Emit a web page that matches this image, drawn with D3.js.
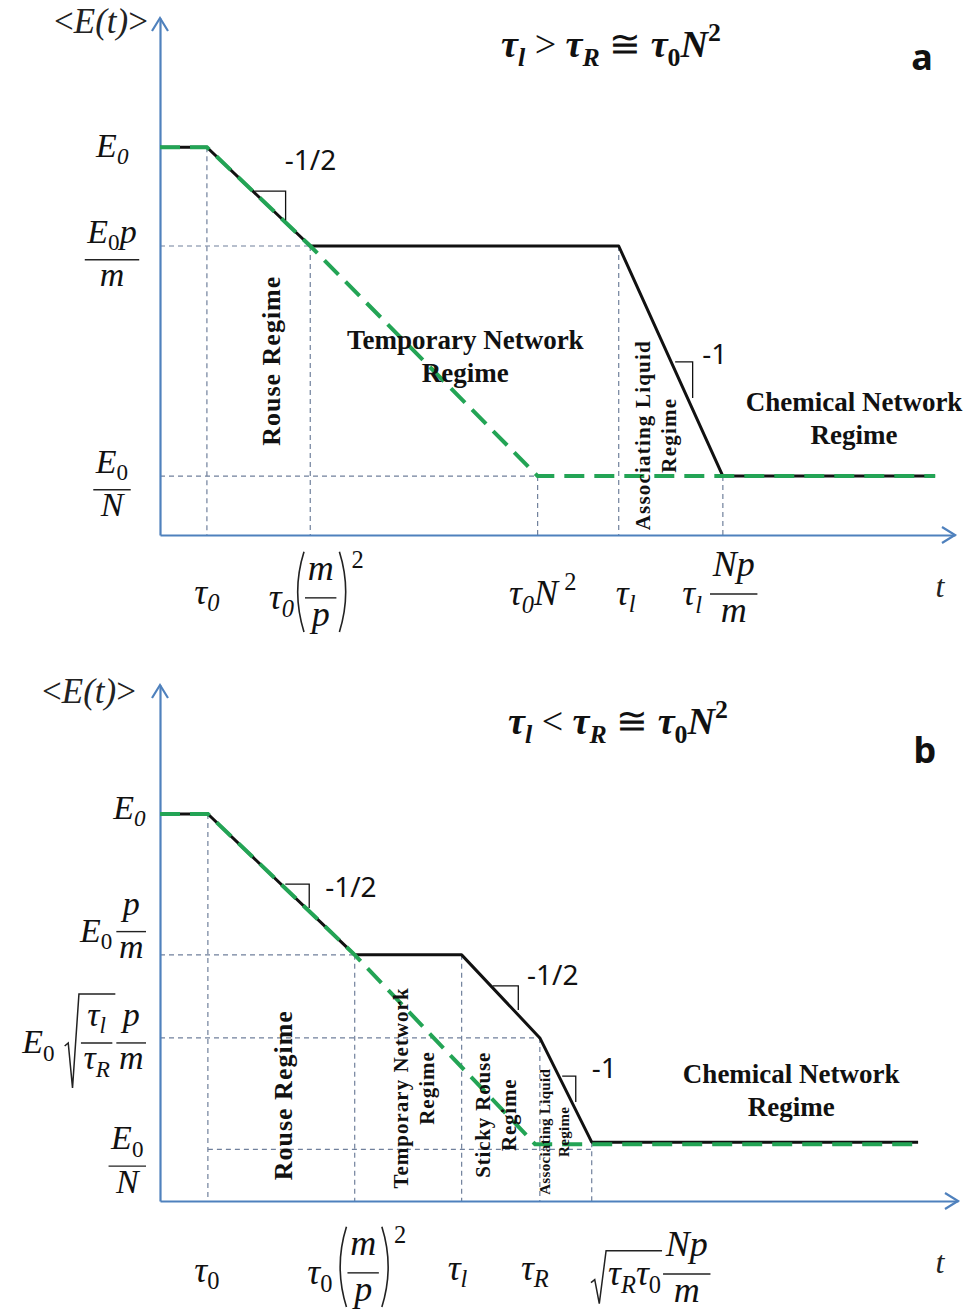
<!DOCTYPE html>
<html>
<head>
<meta charset="utf-8">
<script src="https://cdn.jsdelivr.net/npm/d3@7"></script>
<style>
  body { margin: 0; background: #fff; }
</style>
</head>
<body>
<div id="chart"></div>
<script>
// schematic units on both panels: x = log t, y = log <E(t)>, each 0..10

// panel a
const aBlack = [[0, 7.5], [0.59, 7.5], [1.89, 5.59], [5.77, 5.59], [7.08, 1.14], [9.75, 1.14]]
const aGreen = [[0, 7.5], [0.59, 7.5], [1.89, 5.59], [4.75, 1.14], [9.75, 1.14]]
const aXTicks = [0.59, 1.89, 4.75, 5.77, 7.08]
const aYTicks = [7.5, 5.59, 1.14]
const aVGuides = [[0.59, 7.5], [1.89, 5.59], [4.75, 1.14], [5.77, 5.59], [7.08, 1.14]]
const aHGuides = [[0, 1.89, 5.59], [0, 4.75, 1.14]]
const aSlopes = [
  { x1: 1.19, x2: 1.58, y1: 6.65, y2: 6.09, text: '-1/2', tx: 1.57, ty: 7.06 },
  { x1: 6.48, x2: 6.70, y1: 3.35, y2: 2.65, text: '-1', tx: 6.82, ty: 3.31 }
]
const aRegimes = [
  { lines: ['Rouse Regime'], x: 1.40, y: 3.37, rot: -90, size: 26, ls: 1 },
  { lines: ['Temporary Network', 'Regime'], x: 3.84, y: 3.46, rot: 0, size: 27, ls: 0 },
  { lines: ['Associating Liquid', 'Regime'], x: 6.23, y: 1.93, rot: -90, size: 21, ls: 1.2 },
  { lines: ['Chemical Network', 'Regime'], x: 8.73, y: 2.26, rot: 0, size: 27, ls: 0 }
]

// panel b
const bBlack = [[0, 7.5], [0.60, 7.5], [2.44, 4.77], [3.78, 4.77], [4.76, 3.16], [5.41, 1.14], [9.50, 1.14]]
const bGreen = [[0, 7.5], [0.60, 7.5], [2.44, 4.77], [4.70, 1.10], [9.50, 1.10]]
const bXTicks = [0.60, 2.44, 3.78, 4.76, 5.41]
const bYTicks = [7.5, 4.77, 3.16, 1.0]
const bVGuides = [[0.60, 7.5], [2.44, 4.77], [3.78, 4.77], [4.76, 3.16], [5.41, 1.14]]
const bHGuides = [[0, 2.44, 4.77], [0, 4.76, 3.16], [0.60, 5.41, 1.0]]
const bSlopes = [
  { x1: 1.57, x2: 1.87, y1: 6.14, y2: 5.68, text: '-1/2', tx: 2.07, ty: 5.89 },
  { x1: 4.17, x2: 4.49, y1: 4.17, y2: 3.70, text: '-1/2', tx: 4.60, ty: 4.19 },
  { x1: 5.04, x2: 5.21, y1: 2.42, y2: 1.92, text: '-1', tx: 5.41, ty: 2.38 }
]
const bRegimes = [
  { lines: ['Rouse Regime'], x: 1.54, y: 2.05, rot: -90, size: 26, ls: 1 },
  { lines: ['Temporary  Network', 'Regime'], x: 3.18, y: 2.19, rot: -90, size: 21, ls: 1 },
  { lines: ['Sticky Rouse', 'Regime'], x: 4.21, y: 1.67, rot: -90, size: 21, ls: 0.8 },
  { lines: ['Associating Liquid', 'Regime'], x: 4.94, y: 1.34, rot: -90, size: 15, ls: 0.3 },
  { lines: ['Chemical Network', 'Regime'], x: 7.91, y: 2.15, rot: 0, size: 27, ls: 0 }
]

// math labels: r = text run, f = fraction, p = parentheses, q = square root
const E0 = { r: [['E', 'i'], ['0', 'is']] }
const E0u = { r: [['E', 'i'], ['0', 's']] }
const it = s => ({ r: [[s, 'i']] })
const frac = (n, d) => ({ f: [n, d] })

const aYLabels = [
  [E0],
  [frac([{ r: [['E', 'i'], ['0', 's'], ['p', 'i']] }], [it('m')])],
  [frac([E0u], [it('N')])]
]
const aXLabels = [
  [{ r: [['τ', 'i'], ['0', 'is']] }],
  [{ r: [['τ', 'i'], ['0', 'is']] }, { p: [frac([it('m')], [it('p')])], sup: '2' }],
  [{ r: [['τ', 'i'], ['0', 'is'], ['N', 'i'], [' 2', 'S']] }],
  [{ r: [['τ', 'i'], ['l', 'is']] }],
  [{ r: [['τ', 'i'], ['l', 'is']] }, { gap: 8 }, frac([it('Np')], [it('m')])]
]
const bYLabels = [
  [E0],
  [E0u, { gap: 4 }, frac([it('p')], [it('m')])],
  [E0u, { gap: 10 }, { q: [frac([{ r: [['τ', 'i'], ['l', 'is']] }], [{ r: [['τ', 'i'], ['R', 'is']] }])] }, frac([it('p')], [it('m')])],
  [frac([E0u], [it('N')])]
]
const bXLabels = [
  [{ r: [['τ', 'i'], ['0', 's']] }],
  [{ r: [['τ', 'i'], ['0', 's']] }, { gap: 4 }, { p: [frac([it('m')], [it('p')])], sup: '2' }],
  [{ r: [['τ', 'i'], ['l', 'is']] }],
  [{ r: [['τ', 'i'], ['R', 'is']] }],
  [{ q: [{ r: [['τ', 'i'], ['R', 'is'], ['τ', 'i'], ['0', 's']] }] }, frac([it('Np')], [it('m')])]
]
const aTitle = [['τ', 'bi'], ['l', 'bis'], [' > ', ''], ['τ', 'bi'], ['R', 'bis'], [' ≅ ', ''], ['τ', 'bi'], ['0', 'bs'], ['N', 'bi'], ['2', 'bS']]
const bTitle = [['τ', 'bi'], ['l', 'bis'], [' < ', ''], ['τ', 'bi'], ['R', 'bis'], [' ≅ ', ''], ['τ', 'bi'], ['0', 'bs'], ['N', 'bi'], ['2', 'bS']]

const SERIF = '"Liberation Serif", "DejaVu Serif", serif'
const SANS = '"Noto Sans", "Open Sans", sans-serif'
const AXIS = '#4f81bd'
const GUIDE = '#70809c'
const GREEN = '#23a455'

const svg = d3.select('#chart').append('svg')
  .attr('width', 972).attr('height', 1315)
  .style('background', '#fff')

function run(g, parts, size, x) {
  const t = g.append('text').attr('x', x).attr('y', 0)
    .attr('font-family', SERIF).attr('font-size', size).attr('fill', '#111')
  let shift = 0
  parts.forEach(([str, st]) => {
    let dy = 0
    let fs = size
    if (st.includes('s')) { dy = size * 0.22; fs = size * 0.68 }
    if (st.includes('S')) { dy = -size * 0.42; fs = size * 0.68 }
    t.append('tspan')
      .attr('dy', dy - shift)
      .attr('font-size', fs)
      .attr('font-style', st.includes('i') ? 'italic' : 'normal')
      .attr('font-weight', st.includes('b') ? 'bold' : 'normal')
      .text(str)
    shift = dy
  })
  return t.node().getComputedTextLength()
}

function lay(g, items, size) {
  let x = 0
  items.forEach(d => {
    if (d.r) {
      x += run(g, d.r, size, x)
    } else if (d.gap) {
      x += d.gap
    } else if (d.f) {
      const gn = g.append('g')
      const gd = g.append('g')
      const wn = lay(gn, d.f[0], size)
      const wd = lay(gd, d.f[1], size)
      const w = Math.max(wn, wd) + size * 0.15
      const bar = -size * 0.3
      gn.attr('transform', `translate(${x + (w - wn) / 2},${bar - size * 0.5})`)
      gd.attr('transform', `translate(${x + (w - wd) / 2},${bar + size * 0.78})`)
      g.append('line').attr('x1', x).attr('x2', x + w).attr('y1', bar).attr('y2', bar)
        .attr('stroke', '#222').attr('stroke-width', 1.4)
      x += w + 2
    } else if (d.p) {
      const gi = g.append('g')
      const wi = lay(gi, d.p, size)
      const bb = gi.node().getBBox()
      const top = bb.y + 4
      const bot = bb.y + bb.height - 2
      const mid = (top + bot) / 2
      const pw = size * 0.28
      g.append('path')
        .attr('d', `M${x + pw},${top} Q${x - pw * 0.25},${mid} ${x + pw},${bot}`)
        .attr('fill', 'none').attr('stroke', '#222').attr('stroke-width', 1.6)
      gi.attr('transform', `translate(${x + pw + 1},0)`)
      const xr = x + pw + 1 + wi + 1
      g.append('path')
        .attr('d', `M${xr},${top} Q${xr + pw * 1.25},${mid} ${xr},${bot}`)
        .attr('fill', 'none').attr('stroke', '#222').attr('stroke-width', 1.6)
      x = xr + pw
      if (d.sup) {
        g.append('text').attr('x', x + 2).attr('y', top + size * 0.45)
          .attr('font-family', SERIF).attr('font-size', size * 0.68).attr('fill', '#111')
          .text(d.sup)
        x += size * 0.4
      }
    } else if (d.q) {
      const gi = g.append('g')
      const wi = lay(gi, d.q, size)
      const bb = gi.node().getBBox()
      const top = bb.y - 2
      const bot = bb.y + bb.height + 6
      const mid = (top + bot) / 2 + size * 0.15
      const s = size * 0.42
      g.append('path')
        .attr('d', `M${x},${mid} L${x + s * 0.25},${mid - 3} L${x + s * 0.55},${bot} L${x + s},${top} L${x + s + wi + 3},${top}`)
        .attr('fill', 'none').attr('stroke', '#222').attr('stroke-width', 1.5)
      gi.attr('transform', `translate(${x + s + 2},0)`)
      x += s + wi + 4
    }
  })
  return x
}

// place a laid-out label so its box centre (or right edge) sits at (px, py)
function mathLabel(parent, items, size, px, py, anchor) {
  const g = parent.append('g')
  lay(g, items, size)
  const bb = g.node().getBBox()
  const tx = anchor === 'end' ? px - bb.x - bb.width : px - bb.x - bb.width / 2
  g.attr('transform', `translate(${tx},${py - bb.y - bb.height / 2})`)
}

function drawPanel(p) {
  const x = d3.scaleLinear().domain([0, 10]).range(p.xRange)
  const y = d3.scaleLinear().domain([0, 10]).range(p.yRange)
  const g = svg.append('g')

  // dashed guides
  g.selectAll('line.vg').data(p.vGuides).enter().append('line')
    .attr('x1', d => x(d[0])).attr('x2', d => x(d[0]))
    .attr('y1', d => y(d[1])).attr('y2', y(0))
    .attr('stroke', GUIDE).attr('stroke-width', 1.2).attr('stroke-dasharray', '5,4')
  g.selectAll('line.hg').data(p.hGuides).enter().append('line')
    .attr('x1', d => x(d[0])).attr('x2', d => x(d[1]))
    .attr('y1', d => y(d[2])).attr('y2', d => y(d[2]))
    .attr('stroke', GUIDE).attr('stroke-width', 1.2).attr('stroke-dasharray', '5,4')

  // axes
  g.append('g').attr('transform', `translate(0,${y(0)})`)
    .call(d3.axisBottom(x).tickValues([]).tickSizeOuter(0))
  g.append('g').attr('transform', `translate(${x(0)},0)`)
    .call(d3.axisLeft(y).tickValues([]).tickSizeOuter(0))
  g.selectAll('.domain').attr('stroke', AXIS).attr('stroke-width', 2.2)
  g.append('path')
    .attr('d', `M${x(10) - 13},${y(0) - 8} L${x(10)},${y(0)} L${x(10) - 13},${y(0) + 8}`)
    .attr('fill', 'none').attr('stroke', AXIS).attr('stroke-width', 2.2)
  g.append('path')
    .attr('d', `M${x(0) - 8},${y(10) + 13} L${x(0)},${y(10)} L${x(0) + 8},${y(10) + 13}`)
    .attr('fill', 'none').attr('stroke', AXIS).attr('stroke-width', 2.2)

  // curves
  const line = d3.line().x(d => x(d[0])).y(d => y(d[1]))
  g.append('path').attr('d', line(p.black))
    .attr('fill', 'none').attr('stroke', '#111').attr('stroke-width', 3).attr('stroke-linejoin', 'round')
  g.append('path').attr('d', line(p.green))
    .attr('fill', 'none').attr('stroke', GREEN).attr('stroke-width', 4)
    .attr('stroke-dasharray', '20,10')

  // slope triangles
  g.selectAll('path.tri').data(p.slopes).enter().append('path')
    .attr('d', d => `M${x(d.x1)},${y(d.y1)} H${x(d.x2)} V${y(d.y2)}`)
    .attr('fill', 'none').attr('stroke', '#111').attr('stroke-width', 1.3)
  g.selectAll('text.slope').data(p.slopes).enter().append('text')
    .attr('x', d => x(d.tx)).attr('y', d => y(d.ty))
    .attr('font-family', SANS).attr('font-size', 28)
    .attr('fill', '#111')
    .text(d => d.text)

  // regime names
  const rg = g.selectAll('g.regime').data(p.regimes).enter().append('g')
    .attr('transform', d => `translate(${x(d.x)},${y(d.y)}) rotate(${d.rot})`)
  rg.each(function (d) {
    const lh = d.size * 1.25
    d3.select(this).selectAll('text').data(d.lines).enter().append('text')
      .attr('x', 0)
      .attr('y', (s, i) => (i - (d.lines.length - 1) / 2) * lh + d.size * 0.35)
      .attr('text-anchor', 'middle')
      .attr('font-family', SERIF).attr('font-weight', 'bold')
      .attr('font-size', d.size).attr('letter-spacing', d.ls).attr('fill', '#111')
      .text(s => s)
  })

  // tick labels
  p.yLabels.forEach((items, i) => {
    mathLabel(g, items, 34, p.yLabelX, y(p.yTicks[i]) + p.yLabelDy[i], p.yAnchor)
  })
  p.xLabels.forEach((items, i) => {
    mathLabel(g, items, 36, x(p.xTicks[i]) + p.xLabelDx[i], y(0) + p.xLabelDy[i], 'middle')
  })

  // axis names, title, panel letter
  const yt = g.append('text').attr('x', p.yName[0]).attr('y', p.yName[1])
    .attr('text-anchor', 'end').attr('font-family', SERIF).attr('font-size', 35).attr('fill', '#222')
  yt.append('tspan').text('<')
  yt.append('tspan').attr('font-style', 'italic').text('E(t)')
  yt.append('tspan').text('>')
  g.append('text').attr('x', p.tName[0]).attr('y', p.tName[1])
    .attr('text-anchor', 'middle').attr('font-family', SERIF).attr('font-style', 'italic')
    .attr('font-size', 32).attr('fill', '#222').text('t')
  mathLabel(g, [{ r: p.title }], 38, p.titlePos[0], p.titlePos[1], 'middle')
  g.append('text').attr('x', p.letterPos[0]).attr('y', p.letterPos[1])
    .attr('text-anchor', 'middle').attr('font-family', SANS).attr('font-weight', 'bold')
    .attr('font-size', 36).attr('fill', '#111').text(p.letter)
}

drawPanel({
  xRange: [160, 955], yRange: [535, 18],
  black: aBlack, green: aGreen, vGuides: aVGuides, hGuides: aHGuides,
  slopes: aSlopes, regimes: aRegimes,
  xTicks: aXTicks, xLabels: aXLabels, xLabelDx: [0, 6, 5, 7, -3], xLabelDy: [59, 55, 58, 60, 52],
  yTicks: aYTicks, yLabels: aYLabels, yLabelX: 112, yAnchor: 'middle', yLabelDy: [1, 7, 7],
  yName: [148, 33], tName: [940, 597],
  title: aTitle, titlePos: [611, 45], letter: 'a', letterPos: [922, 70]
})

drawPanel({
  xRange: [160, 958], yRange: [1201, 685],
  black: bBlack, green: bGreen, vGuides: bVGuides, hGuides: bHGuides,
  slopes: bSlopes, regimes: bRegimes,
  xTicks: bXTicks, xLabels: bXLabels, xLabelDx: [-1, 2, -4, -5, 59], xLabelDy: [71, 64, 69, 69, 66],
  yTicks: bYTicks, yLabels: bYLabels, yLabelX: 146, yAnchor: 'end', yLabelDy: [-4, -30, 3, 10],
  yName: [136, 703], tName: [940, 1273],
  title: bTitle, titlePos: [618, 722], letter: 'b', letterPos: [925, 763]
})
</script>
</body>
</html>
